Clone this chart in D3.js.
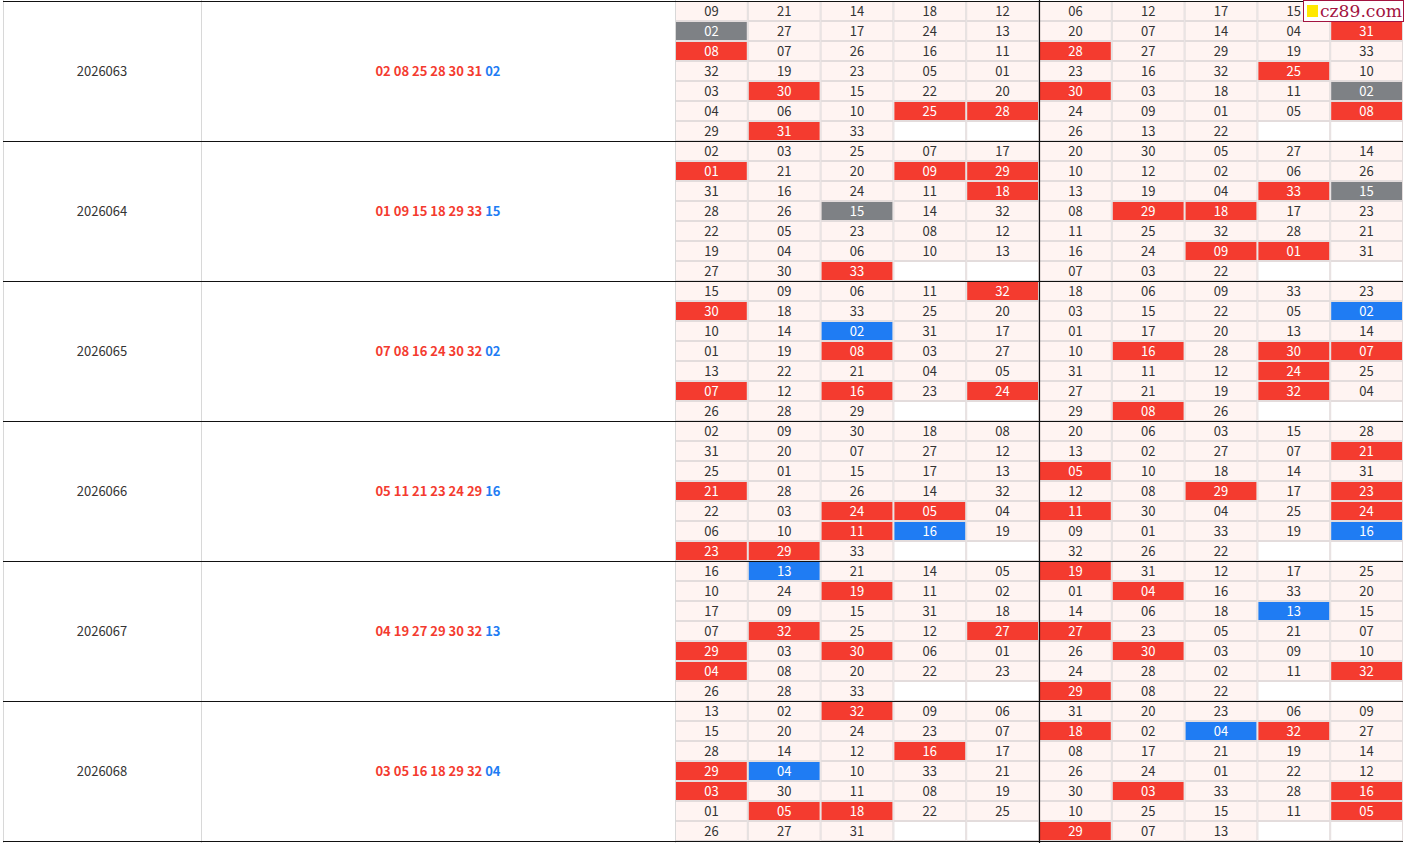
<!DOCTYPE html>
<html>
<head>
<meta charset="utf-8">
<script src="https://cdn.jsdelivr.net/npm/d3@7"></script>
<style>
  body { margin: 0; background: #fff; }
  svg { display: block; font-family: "Microsoft YaHei", "Noto Sans CJK SC", "Open Sans", sans-serif; }
</style>
</head>
<body>
<svg id="chart" width="1406" height="843"></svg>
<script>
// issues and their draws
const issues = ['2026063', '2026064', '2026065', '2026066', '2026067', '2026068'];
const redBalls = [
  ['02', '08', '25', '28', '30', '31'],
  ['01', '09', '15', '18', '29', '33'],
  ['07', '08', '16', '24', '30', '32'],
  ['05', '11', '21', '23', '24', '29'],
  ['04', '19', '27', '29', '30', '32'],
  ['03', '05', '16', '18', '29', '32']
];
const blueBalls = ['02', '15', '02', '16', '13', '04'];

// grid columns per issue (top to bottom)
const grid2026063 = [
  ['09', '02', '08', '32', '03', '04', '29'],
  ['21', '27', '07', '19', '30', '06', '31'],
  ['14', '17', '26', '23', '15', '10', '33'],
  ['18', '24', '16', '05', '22', '25'],
  ['12', '13', '11', '01', '20', '28'],
  ['06', '20', '28', '23', '30', '24', '26'],
  ['12', '07', '27', '16', '03', '09', '13'],
  ['17', '14', '29', '32', '18', '01', '22'],
  ['15', '04', '19', '25', '11', '05'],
  ['21', '31', '33', '10', '02', '08']
];
const grid2026064 = [
  ['02', '01', '31', '28', '22', '19', '27'],
  ['03', '21', '16', '26', '05', '04', '30'],
  ['25', '20', '24', '15', '23', '06', '33'],
  ['07', '09', '11', '14', '08', '10'],
  ['17', '29', '18', '32', '12', '13'],
  ['20', '10', '13', '08', '11', '16', '07'],
  ['30', '12', '19', '29', '25', '24', '03'],
  ['05', '02', '04', '18', '32', '09', '22'],
  ['27', '06', '33', '17', '28', '01'],
  ['14', '26', '15', '23', '21', '31']
];
const grid2026065 = [
  ['15', '30', '10', '01', '13', '07', '26'],
  ['09', '18', '14', '19', '22', '12', '28'],
  ['06', '33', '02', '08', '21', '16', '29'],
  ['11', '25', '31', '03', '04', '23'],
  ['32', '20', '17', '27', '05', '24'],
  ['18', '03', '01', '10', '31', '27', '29'],
  ['06', '15', '17', '16', '11', '21', '08'],
  ['09', '22', '20', '28', '12', '19', '26'],
  ['33', '05', '13', '30', '24', '32'],
  ['23', '02', '14', '07', '25', '04']
];
const grid2026066 = [
  ['02', '31', '25', '21', '22', '06', '23'],
  ['09', '20', '01', '28', '03', '10', '29'],
  ['30', '07', '15', '26', '24', '11', '33'],
  ['18', '27', '17', '14', '05', '16'],
  ['08', '12', '13', '32', '04', '19'],
  ['20', '13', '05', '12', '11', '09', '32'],
  ['06', '02', '10', '08', '30', '01', '26'],
  ['03', '27', '18', '29', '04', '33', '22'],
  ['15', '07', '14', '17', '25', '19'],
  ['28', '21', '31', '23', '24', '16']
];
const grid2026067 = [
  ['16', '10', '17', '07', '29', '04', '26'],
  ['13', '24', '09', '32', '03', '08', '28'],
  ['21', '19', '15', '25', '30', '20', '33'],
  ['14', '11', '31', '12', '06', '22'],
  ['05', '02', '18', '27', '01', '23'],
  ['19', '01', '14', '27', '26', '24', '29'],
  ['31', '04', '06', '23', '30', '28', '08'],
  ['12', '16', '18', '05', '03', '02', '22'],
  ['17', '33', '13', '21', '09', '11'],
  ['25', '20', '15', '07', '10', '32']
];
const grid2026068 = [
  ['13', '15', '28', '29', '03', '01', '26'],
  ['02', '20', '14', '04', '30', '05', '27'],
  ['32', '24', '12', '10', '11', '18', '31'],
  ['09', '23', '16', '33', '08', '22'],
  ['06', '07', '17', '21', '19', '25'],
  ['31', '18', '08', '26', '30', '10', '29'],
  ['20', '02', '17', '24', '03', '25', '07'],
  ['23', '04', '21', '01', '33', '15', '13'],
  ['06', '32', '19', '22', '28', '11'],
  ['09', '27', '14', '12', '16', '05']
];
const grids = [grid2026063, grid2026064, grid2026065, grid2026066, grid2026067, grid2026068];

const RED = '#f43b2f', BLUE = '#1f7cf3', GRAY = '#7e8185';

const svg = d3.select('#chart');

const groupY = d3.scaleBand().domain(issues).range([1, 841]);
const colX = d3.scaleBand().domain(d3.range(10)).range([675, 1403]);
const rowY = d3.scaleBand().domain(d3.range(7)).range([0, 140]);

// watermark box, cells under it get no label
const mark = { x: 1303, y: 0, w: 101, h: 22 };

function cellColor(v, i) {
  const isRed = redBalls[i].includes(v), isBlue = blueBalls[i] === v;
  if (isRed && isBlue) return GRAY;
  if (isRed) return RED;
  if (isBlue) return BLUE;
  return null;
}

const groups = svg.selectAll('g.issue')
  .data(issues)
  .join('g')
  .attr('class', 'issue')
  .attr('transform', d => `translate(0,${groupY(d)})`);

// issue number
groups.append('text')
  .attr('x', 102)
  .attr('y', groupY.bandwidth() / 2)
  .attr('dy', '0.35em')
  .attr('text-anchor', 'middle')
  .attr('font-size', 13)
  .attr('fill', '#333')
  .text(d => d);

// draw numbers
const draw = groups.append('text')
  .attr('x', 438)
  .attr('y', groupY.bandwidth() / 2)
  .attr('dy', '0.35em')
  .attr('text-anchor', 'middle')
  .attr('font-size', 13)
  .attr('font-weight', 'bold');
draw.append('tspan').attr('fill', RED).text((d, i) => redBalls[i].join(' ') + ' ');
draw.append('tspan').attr('fill', BLUE).text((d, i) => blueBalls[i]);

// grid cells
groups.each(function(issue, gi) {
  const top = groupY(issue);
  const cells = [];
  grids[gi].forEach((col, c) => {
    d3.range(7).forEach(r => cells.push({ c, r, v: col[r] }));
  });
  const cell = d3.select(this).selectAll('g.cell')
    .data(cells)
    .join('g')
    .attr('class', 'cell')
    .attr('transform', d => `translate(${colX(d.c)},${rowY(d.r)})`);

  cell.append('rect')
    .attr('x', 0.5).attr('y', 0.5)
    .attr('width', colX.bandwidth() - 1)
    .attr('height', rowY.bandwidth() - 1)
    .attr('fill', d => d.v ? '#fff4f2' : '#fff')
    .attr('stroke', '#e3dcdc')
    .attr('stroke-width', 1);

  cell.filter(d => d.v && cellColor(d.v, gi))
    .append('rect')
    .attr('x', 1).attr('y', 1)
    .attr('width', colX.bandwidth() - 2)
    .attr('height', rowY.bandwidth() - 2)
    .attr('fill', d => cellColor(d.v, gi));

  const hidden = d => {
    const cx = colX(d.c) + colX.bandwidth() / 2, cy = top + rowY(d.r) + rowY.bandwidth() / 2;
    return cx > mark.x && cx < mark.x + mark.w && cy > mark.y && cy < mark.y + mark.h;
  };

  cell.filter(d => d.v && !hidden(d))
    .append('text')
    .attr('x', colX.bandwidth() / 2)
    .attr('y', rowY.bandwidth() / 2)
    .attr('dy', '0.36em')
    .attr('text-anchor', 'middle')
    .attr('font-size', 13)
    .attr('fill', d => cellColor(d.v, gi) ? '#fff' : '#333')
    .text(d => d.v);
});

// light column separators on the left
[3, 201, 675].forEach(x => {
  svg.append('line')
    .attr('x1', x + 0.5).attr('x2', x + 0.5)
    .attr('y1', 0).attr('y2', 843)
    .attr('stroke', '#d8d8d8');
});

// black group boundaries
const bounds = issues.map(d => groupY(d)).concat([groupY.range()[1]]);
svg.selectAll('line.bound')
  .data(bounds)
  .join('line')
  .attr('class', 'bound')
  .attr('x1', 3).attr('x2', 1403)
  .attr('y1', d => d + 0.5).attr('y2', d => d + 0.5)
  .attr('stroke', '#111')
  .attr('stroke-width', 1.2);

// split between the two halves
svg.append('line')
  .attr('x1', colX(5) + 0.5).attr('x2', colX(5) + 0.5)
  .attr('y1', 0).attr('y2', 843)
  .attr('stroke', '#111')
  .attr('stroke-width', 1.2);

// watermark
const wm = svg.append('g').attr('transform', `translate(${mark.x},${mark.y})`);
wm.append('rect')
  .attr('x', 0.5).attr('y', 0.5).attr('width', mark.w - 1).attr('height', mark.h - 1)
  .attr('fill', '#fff').attr('stroke', '#a3133f');
wm.append('rect')
  .attr('x', 4).attr('y', 5).attr('width', 11).attr('height', 12)
  .attr('fill', '#ffe800');
wm.append('text')
  .attr('x', 17).attr('y', 17)
  .attr('font-family', '"DejaVu Serif", "Liberation Serif", serif')
  .attr('font-size', 17)
  .attr('fill', '#a3133f')
  .attr('textLength', 82)
  .attr('lengthAdjust', 'spacingAndGlyphs')
  .text('cz89.com');
</script>
</body>
</html>
